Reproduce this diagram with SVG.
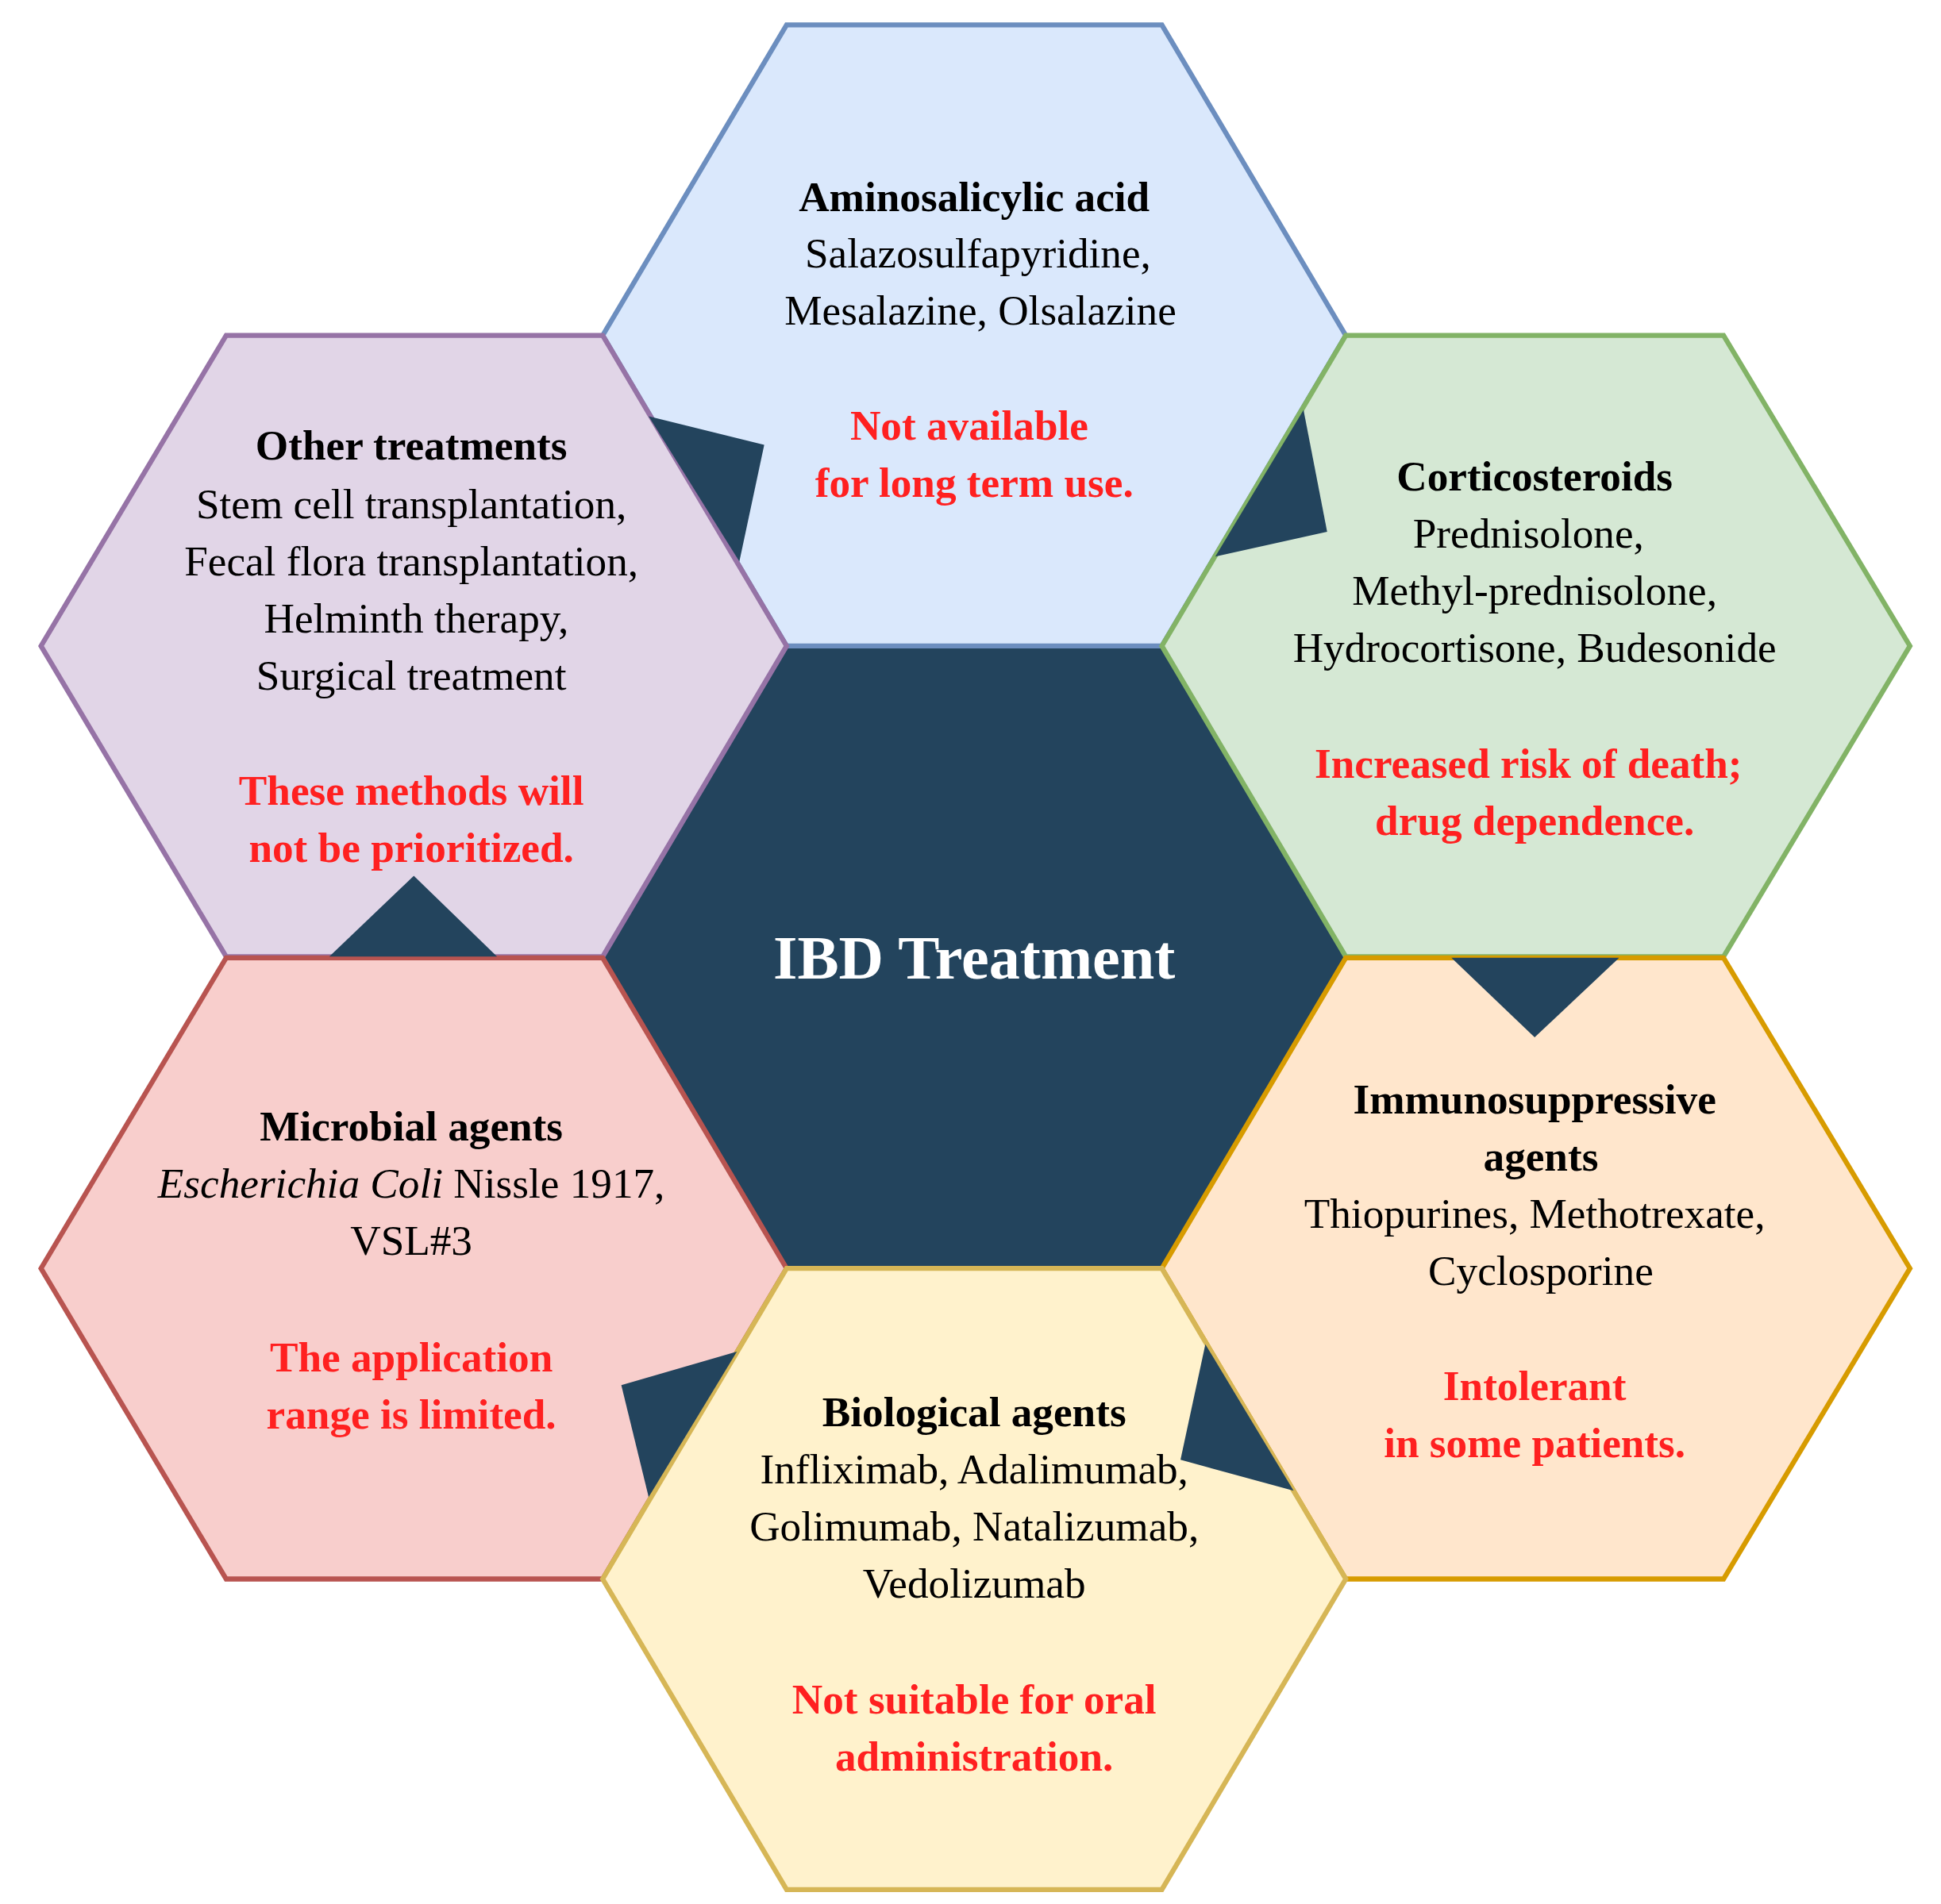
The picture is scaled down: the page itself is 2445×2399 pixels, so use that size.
<svg xmlns="http://www.w3.org/2000/svg" width="2445" height="2399" viewBox="0 0 2445 2399">
<style>
.h{stroke-width:4;stroke-linejoin:miter}
text{font-family:"Liberation Serif","Times New Roman",serif;font-size:34px;text-anchor:middle;fill:#000}
.b{font-weight:bold}
.r{font-weight:bold;fill:#ff2020}
.t{font-weight:bold;fill:#fff;font-size:50px}
.arr{fill:#23445d}
</style>
<rect width="2445" height="2399" fill="#fff"/>
<g transform="scale(1.5653)">
<g id="center"><polygon class="h" points="633,520 935,520 1083,770 935,1021 633,1021 485,770" fill="#23445d" stroke="#23445d"/><text class="t" x="784" y="788">IBD Treatment</text></g>
<g id="aminosalicylic"><polygon class="h" points="633,20 935,20 1083,270 935,520 633,520 485,270" fill="#dae8fc" stroke="#6c8ebf"/>
<text class="b" x="784" y="170">Aminosalicylic acid</text><text x="787" y="215">Salazosulfapyridine,</text><text x="789" y="261">Mesalazine, Olsalazine</text>
<text class="r" x="780" y="354">Not available</text><text class="r" x="784" y="400">for long term use.</text></g>
<g id="other"><polygon class="h" points="182,270 485,270 633,520 485,770 182,770 33,520" fill="#e1d5e7" stroke="#9673a6"/>
<text class="b" x="331" y="370">Other treatments</text><text x="331" y="417">Stem cell transplantation,</text><text x="331" y="463">Fecal flora transplantation,</text><text x="335" y="509">Helminth therapy,</text><text x="331" y="555">Surgical treatment</text>
<text class="r" x="331" y="648">These methods will</text><text class="r" x="331" y="694">not be prioritized.</text></g>
<g id="corticosteroids"><polygon class="h" points="1083,270 1387,270 1537,520 1387,770 1083,770 935,520" fill="#d5e8d4" stroke="#82b366"/>
<text class="b" x="1235" y="395">Corticosteroids</text><text x="1230" y="441">Prednisolone,</text><text x="1235" y="487">Methyl-prednisolone,</text><text x="1235" y="533">Hydrocortisone, Budesonide</text>
<text class="r" x="1230" y="626">Increased risk of death;</text><text class="r" x="1235" y="672">drug dependence.</text></g>
<g id="microbial"><polygon class="h" points="182,771 485,771 633,1021 485,1271 182,1271 33,1021" fill="#f8cecc" stroke="#b85450"/>
<text class="b" x="331" y="918">Microbial agents</text><text x="331" y="964"><tspan font-style="italic">Escherichia Coli</tspan> Nissle 1917,</text><text x="331" y="1010">VSL#3</text>
<text class="r" x="331" y="1104">The application</text><text class="r" x="331" y="1150">range is limited.</text></g>
<g id="immunosuppressive"><polygon class="h" points="1083,771 1387,771 1537,1021 1387,1271 1083,1271 935,1021" fill="#ffe6cc" stroke="#d79b00"/>
<text class="b" x="1235" y="896">Immunosuppressive</text><text class="b" x="1240" y="942">agents</text><text x="1235" y="988">Thiopurines, Methotrexate,</text><text x="1240" y="1034">Cyclosporine</text>
<text class="r" x="1235" y="1127">Intolerant</text><text class="r" x="1235" y="1173">in some patients.</text></g>
<g id="biological"><polygon class="h" points="633,1021 935,1021 1083,1271 935,1521 633,1521 485,1271" fill="#fff2cc" stroke="#d6b656"/>
<text class="b" x="784" y="1148">Biological agents</text><text x="784" y="1194">Infliximab, Adalimumab,</text><text x="784" y="1240">Golimumab, Natalizumab,</text><text x="784" y="1286">Vedolizumab</text>
<text class="r" x="784" y="1379">Not suitable for oral</text><text class="r" x="784" y="1425">administration.</text></g>
<g id="connectors">
<polygon class="arr" points="522,335 615,358 595,452"/>
<polygon class="arr" points="1049,330 1068,428 978,448"/>
<polygon class="arr" points="1168,771 1303,771 1235,835"/>
<polygon class="arr" points="970,1082 1041,1200 950,1175"/>
<polygon class="arr" points="593,1088 500,1115 522,1205"/>
<polygon class="arr" points="265,770 400,770 333,705"/>
</g>
</g>
</svg>
